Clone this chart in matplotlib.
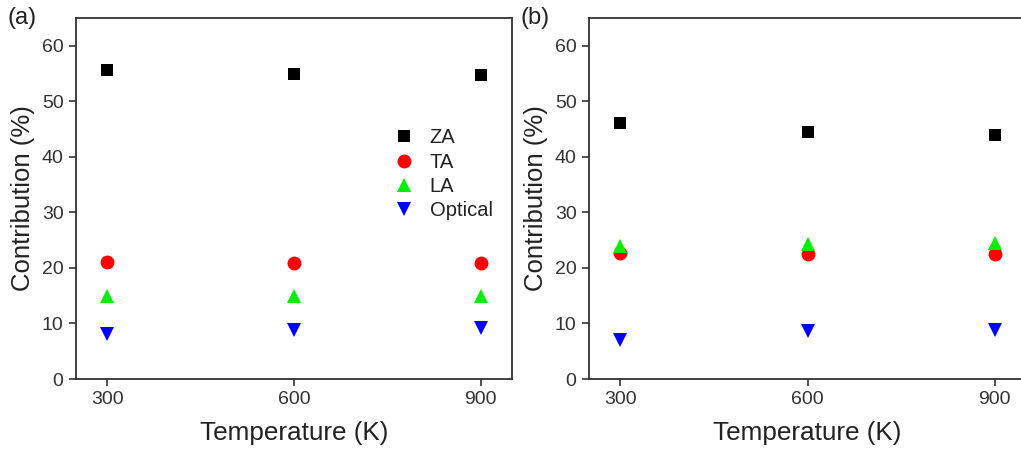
import numpy as np
import matplotlib
matplotlib.use("Agg")
import matplotlib.pyplot as plt

plt.rcParams['font.family'] = ['Liberation Sans', 'DejaVu Sans']

# temperatures (K)
temps = [300, 600, 900]

# panel (a) contributions (%)
za_a = [55.7, 55.0, 54.8]
ta_a = [21.0, 20.8, 20.8]
la_a = [15.0, 15.0, 15.0]
opt_a = [8.1, 8.9, 9.1]

# panel (b) contributions (%)
za_b = [46.1, 44.4, 44.0]
ta_b = [22.6, 22.5, 22.5]
la_b = [24.0, 24.3, 24.4]
opt_b = [7.0, 8.6, 8.9]

labels = ['ZA', 'TA', 'LA', 'Optical']
markers = ['s', 'o', '^', 'v']
colors = ['black', '#ff0000', '#00ee00', '#0000ff']
sizes = [9, 10, 10, 10]

fig = plt.figure(figsize=(10.21, 4.55), dpi=100)
W, H = 1021, 455
ax_a = fig.add_axes([76 / W, 1 - 379 / H, 436 / W, 361 / H])
ax_b = fig.add_axes([589 / W, 1 - 379 / H, 437 / W, 361 / H])

def draw_panel(ax, series, tag, legend=False):
    for vals, lab, m, c, s in zip(series, labels, markers, colors, sizes):
        ax.plot(temps, vals, linestyle='none', marker=m, color=c,
                markersize=s, markeredgewidth=0, label=lab)
    ax.set_xlim(250, 950)
    ax.set_ylim(0, 65)
    ax.set_xticks(temps)
    ax.set_yticks(range(0, 61, 10))
    ax.tick_params(direction='out', length=5, width=1.2, labelsize=14,
                   colors='#333333', pad=4)
    for sp in ax.spines.values():
        sp.set_linewidth(1.3)
        sp.set_color('#333333')
    ax.set_xlabel('Temperature (K)', fontsize=18.8, color='#222222', labelpad=9)
    ax.set_ylabel('Contribution (%)', fontsize=18.5, color='#222222', labelpad=5)
    ax.text(-0.157, 1.0, tag, transform=ax.transAxes, fontsize=17,
            color='#222222', va='center', ha='left')
    if legend:
        ax.legend(loc='upper left', bbox_to_anchor=(0.677, 0.745), frameon=False,
                  fontsize=14.5, handletextpad=0.5, labelspacing=0.27,
                  handlelength=1.5, labelcolor='#222222')

draw_panel(ax_a, [za_a, ta_a, la_a, opt_a], '(a)', legend=True)
draw_panel(ax_b, [za_b, ta_b, la_b, opt_b], '(b)')

fig.savefig('out.png', dpi=100)
